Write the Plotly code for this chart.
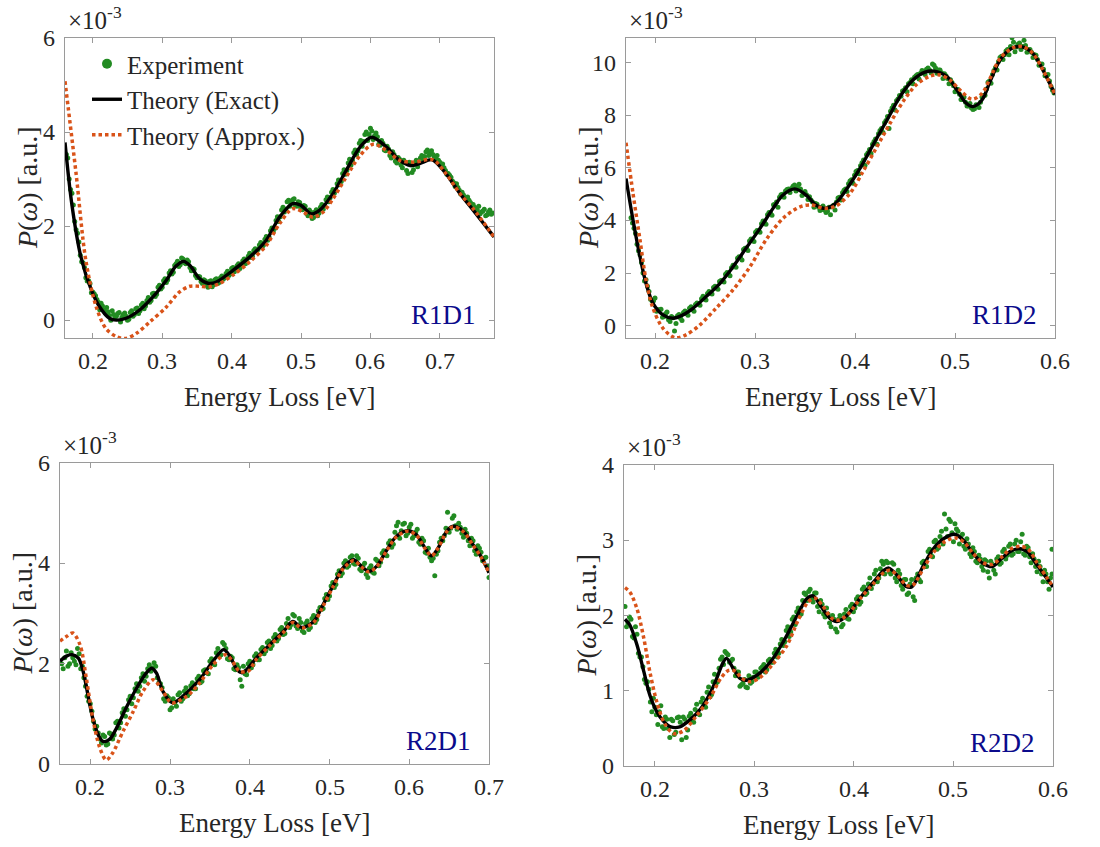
import plotly.graph_objects as go

# ---------------------------------------------------------------------------
# Loss spectra P(omega), values in units of 1e-3 (a.u.), energy in eV
# ---------------------------------------------------------------------------

# R1D1 -----------------------------------------------------------------------
r1d1_exact_x = [0.160, 0.170, 0.183, 0.198, 0.210, 0.224, 0.234, 0.248, 0.267, 0.287,
                0.306, 0.320, 0.331, 0.340, 0.354, 0.367, 0.378, 0.402, 0.426, 0.450,
                0.469, 0.488, 0.500, 0.515, 0.527, 0.546, 0.565, 0.585, 0.602, 0.623,
                0.642, 0.658, 0.671, 0.689, 0.709, 0.729, 0.748, 0.778]
r1d1_exact_y = [3.78, 2.45, 1.34, 0.64, 0.28, 0.04, 0.00, 0.04, 0.21, 0.50,
                0.85, 1.15, 1.25, 1.16, 0.88, 0.78, 0.81, 1.06, 1.34, 1.70,
                2.19, 2.48, 2.44, 2.26, 2.34, 2.69, 3.18, 3.68, 3.89, 3.68,
                3.40, 3.29, 3.33, 3.41, 3.11, 2.69, 2.34, 1.77]
r1d1_approx_x = [0.160, 0.176, 0.190, 0.205, 0.219, 0.234, 0.247, 0.263, 0.282, 0.306,
                 0.325, 0.340, 0.354, 0.368, 0.383, 0.402, 0.426, 0.450, 0.469, 0.488,
                 0.503, 0.517, 0.532, 0.546, 0.565, 0.585, 0.604, 0.623, 0.642, 0.662,
                 0.690, 0.709, 0.729, 0.748, 0.778]
r1d1_approx_y = [5.08, 3.11, 1.27, 0.28, -0.18, -0.35, -0.39, -0.28, -0.04, 0.28,
                 0.60, 0.72, 0.72, 0.71, 0.78, 0.96, 1.24, 1.59, 2.05, 2.37,
                 2.30, 2.19, 2.30, 2.58, 3.04, 3.50, 3.74, 3.61, 3.40, 3.36,
                 3.41, 3.11, 2.69, 2.37, 1.77]
r1d1_exp = [
    (0.162, 3.52), (0.164, 3.45), (0.168, 2.78), (0.172, 2.45), (0.176, 1.92), (0.180, 1.66),
    (0.184, 1.24), (0.188, 1.12), (0.192, 0.83), (0.196, 0.78), (0.200, 0.60), (0.204, 0.52),
    (0.208, 0.38), (0.212, 0.36), (0.216, 0.21), (0.220, 0.27), (0.224, 0.10), (0.228, 0.20),
    (0.232, 0.05), (0.236, 0.14), (0.240, -0.04), (0.244, 0.12), (0.248, 0.08), (0.252, 0.02),
    (0.256, 0.20), (0.260, 0.12), (0.264, 0.26), (0.268, 0.20), (0.272, 0.36), (0.276, 0.30),
    (0.280, 0.48), (0.284, 0.42), (0.288, 0.57), (0.292, 0.55), (0.296, 0.74), (0.300, 0.70),
    (0.304, 0.88), (0.308, 0.86), (0.312, 1.05), (0.316, 1.02), (0.320, 1.20), (0.324, 1.14),
    (0.328, 1.32), (0.332, 1.22), (0.336, 1.28), (0.340, 1.12), (0.344, 1.10), (0.348, 0.95),
    (0.352, 0.93), (0.356, 0.82), (0.360, 0.86), (0.364, 0.74), (0.368, 0.82), (0.372, 0.71),
    (0.376, 0.86), (0.380, 0.78), (0.384, 0.90), (0.388, 0.87), (0.392, 0.99), (0.396, 0.95),
    (0.400, 1.10), (0.404, 1.03), (0.408, 1.16), (0.412, 1.10), (0.416, 1.26), (0.420, 1.20),
    (0.424, 1.36), (0.428, 1.33), (0.432, 1.48), (0.436, 1.45), (0.440, 1.60), (0.444, 1.55),
    (0.448, 1.72), (0.452, 1.70), (0.456, 1.90), (0.460, 1.88), (0.464, 2.12), (0.468, 2.10),
    (0.472, 2.34), (0.476, 2.30), (0.480, 2.52), (0.484, 2.42), (0.488, 2.56), (0.492, 2.44),
    (0.496, 2.52), (0.500, 2.38), (0.504, 2.44), (0.508, 2.27), (0.512, 2.34), (0.516, 2.16),
    (0.520, 2.30), (0.524, 2.22), (0.528, 2.40), (0.532, 2.36), (0.536, 2.56), (0.540, 2.52),
    (0.544, 2.72), (0.548, 2.70), (0.552, 2.90), (0.556, 2.88), (0.560, 3.12), (0.564, 3.10),
    (0.568, 3.34), (0.572, 3.30), (0.576, 3.56), (0.580, 3.52), (0.584, 3.76), (0.588, 3.70),
    (0.592, 3.95), (0.596, 3.82), (0.600, 4.08), (0.604, 3.84), (0.608, 3.98), (0.612, 3.74),
    (0.616, 3.82), (0.620, 3.62), (0.624, 3.70), (0.628, 3.50), (0.632, 3.58), (0.636, 3.38),
    (0.640, 3.46), (0.644, 3.30), (0.648, 3.40), (0.652, 3.18), (0.656, 3.36), (0.660, 3.14),
    (0.664, 3.34), (0.668, 3.26), (0.672, 3.45), (0.676, 3.42), (0.680, 3.58), (0.684, 3.50),
    (0.688, 3.60), (0.692, 3.48), (0.696, 3.50), (0.700, 3.36), (0.704, 3.32), (0.708, 3.18),
    (0.712, 3.12), (0.716, 3.04), (0.720, 2.92), (0.724, 2.90), (0.728, 2.76), (0.732, 2.72),
    (0.736, 2.60), (0.740, 2.62), (0.744, 2.50), (0.748, 2.46), (0.752, 2.38), (0.756, 2.42),
    (0.760, 2.30), (0.764, 2.36), (0.768, 2.24), (0.772, 2.34), (0.776, 2.28),
    (0.166, 3.00), (0.170, 2.70), (0.174, 2.10), (0.178, 1.85), (0.182, 1.38), (0.186, 1.22),
    (0.190, 0.90), (0.194, 0.84), (0.198, 0.58), (0.202, 0.56), (0.206, 0.44), (0.210, 0.22),
    (0.214, 0.30), (0.218, 0.15), (0.222, 0.18), (0.226, 0.00), (0.230, 0.12), (0.234, 0.08),
    (0.238, 0.16), (0.242, 0.06), (0.246, 0.15), (0.250, 0.00), (0.254, 0.16), (0.258, 0.08),
    (0.262, 0.24), (0.266, 0.14), (0.270, 0.32), (0.274, 0.24), (0.278, 0.42), (0.282, 0.38),
    (0.286, 0.56), (0.290, 0.50), (0.294, 0.70), (0.298, 0.66), (0.302, 0.84), (0.306, 0.80),
    (0.310, 1.00), (0.314, 0.98), (0.318, 1.16), (0.322, 1.25), (0.326, 1.18), (0.330, 1.30),
    (0.334, 1.20), (0.338, 1.24), (0.342, 1.05), (0.346, 1.08), (0.350, 0.90), (0.354, 0.92),
    (0.358, 0.78), (0.362, 0.84), (0.366, 0.70), (0.370, 0.84), (0.374, 0.75), (0.378, 0.88),
    (0.382, 0.80), (0.386, 0.94), (0.390, 0.90), (0.394, 1.04), (0.398, 0.98), (0.402, 1.12),
    (0.406, 1.07), (0.410, 1.20), (0.414, 1.15), (0.418, 1.30), (0.422, 1.25), (0.426, 1.42),
    (0.430, 1.36), (0.434, 1.52), (0.438, 1.50), (0.442, 1.65), (0.446, 1.60), (0.450, 1.78),
    (0.454, 1.76), (0.458, 1.96), (0.462, 1.95), (0.466, 2.20), (0.470, 2.20), (0.474, 2.40),
    (0.478, 2.36), (0.482, 2.55), (0.486, 2.50), (0.490, 2.58), (0.494, 2.42), (0.498, 2.50),
    (0.502, 2.35), (0.506, 2.42), (0.510, 2.22), (0.514, 2.30), (0.518, 2.18), (0.522, 2.35),
    (0.526, 2.28), (0.530, 2.46), (0.534, 2.44), (0.538, 2.62), (0.542, 2.60), (0.546, 2.78),
    (0.550, 2.76), (0.554, 2.98), (0.558, 2.95), (0.562, 3.20), (0.566, 3.18), (0.570, 3.42),
    (0.574, 3.40), (0.578, 3.62), (0.582, 3.60), (0.586, 3.82), (0.590, 3.80), (0.594, 4.00),
    (0.598, 3.95), (0.602, 4.02), (0.606, 3.92), (0.610, 3.90), (0.614, 3.72), (0.618, 3.76),
    (0.622, 3.60), (0.626, 3.64), (0.630, 3.45), (0.634, 3.52), (0.638, 3.34), (0.642, 3.42),
    (0.646, 3.24), (0.650, 3.36), (0.654, 3.12), (0.658, 3.30), (0.662, 3.20), (0.666, 3.40),
    (0.670, 3.35), (0.674, 3.50), (0.678, 3.48), (0.682, 3.62), (0.686, 3.55), (0.690, 3.52),
    (0.694, 3.45), (0.698, 3.40), (0.702, 3.28), (0.706, 3.24), (0.710, 3.10), (0.714, 3.08),
    (0.718, 2.96), (0.722, 2.84), (0.726, 2.82), (0.730, 2.68), (0.734, 2.66), (0.738, 2.56),
    (0.742, 2.55), (0.746, 2.45), (0.750, 2.40), (0.754, 2.34), (0.758, 2.26), (0.762, 2.32),
    (0.766, 2.22), (0.770, 2.30), (0.774, 2.25),
]

# R1D2 -----------------------------------------------------------------------
r1d2_exact_x = [0.171, 0.178, 0.185, 0.191, 0.198, 0.208, 0.218, 0.228, 0.238, 0.251,
                0.265, 0.278, 0.291, 0.305, 0.318, 0.328, 0.340, 0.351, 0.361, 0.370,
                0.380, 0.391, 0.405, 0.418, 0.432, 0.445, 0.458, 0.470, 0.479, 0.492,
                0.502, 0.511, 0.518, 0.527, 0.535, 0.545, 0.556, 0.566, 0.578, 0.588,
                0.600]
r1d2_exact_y = [5.60, 4.02, 2.62, 1.61, 0.85, 0.41, 0.28, 0.41, 0.66, 1.10,
                1.61, 2.24, 2.94, 3.70, 4.46, 4.97, 5.20, 4.97, 4.59, 4.46,
                4.63, 5.16, 5.98, 6.87, 7.82, 8.71, 9.34, 9.64, 9.68, 9.47,
                8.96, 8.47, 8.33, 8.58, 9.28, 10.10, 10.53, 10.61, 10.35, 9.72,
                8.80]
r1d2_approx_x = [0.171, 0.178, 0.185, 0.191, 0.198, 0.208, 0.220, 0.231, 0.245, 0.261,
                 0.278, 0.295, 0.311, 0.328, 0.345, 0.356, 0.370, 0.381, 0.395, 0.408,
                 0.421, 0.435, 0.448, 0.461, 0.475, 0.485, 0.495, 0.505, 0.517, 0.527,
                 0.535, 0.545, 0.558, 0.568, 0.578, 0.588, 0.600]
r1d2_approx_y = [6.96, 5.03, 3.26, 1.74, 0.66, -0.10, -0.46, -0.35, 0.03, 0.66,
                 1.36, 2.24, 3.26, 4.08, 4.52, 4.59, 4.46, 4.55, 5.03, 5.86,
                 6.74, 7.69, 8.52, 9.15, 9.49, 9.53, 9.34, 8.96, 8.61, 8.83,
                 9.40, 10.16, 10.57, 10.61, 10.35, 9.72, 8.80]
r1d2_exp = [
    (0.176, 4.10), (0.179, 3.70), (0.182, 3.10), (0.185, 2.70), (0.188, 2.00), (0.191, 1.75),
    (0.194, 1.30), (0.197, 0.95), (0.200, 1.05), (0.203, 0.60), (0.206, 0.62), (0.209, 0.35),
    (0.212, 0.52), (0.215, 0.16), (0.218, 0.30), (0.221, 0.08), (0.224, 0.42), (0.227, 0.20),
    (0.230, 0.56), (0.233, 0.40), (0.236, 0.72), (0.239, 0.55), (0.242, 0.86), (0.245, 0.78),
    (0.248, 1.12), (0.251, 0.98), (0.254, 1.30), (0.257, 1.20), (0.260, 1.50), (0.263, 1.38),
    (0.266, 1.72), (0.269, 1.66), (0.272, 2.02), (0.275, 1.90), (0.278, 2.30), (0.281, 2.22),
    (0.284, 2.62), (0.287, 2.50), (0.290, 2.94), (0.293, 2.86), (0.296, 3.30), (0.299, 3.20),
    (0.302, 3.62), (0.305, 3.55), (0.308, 3.98), (0.311, 3.86), (0.314, 4.30), (0.317, 4.20),
    (0.320, 4.62), (0.323, 4.50), (0.326, 4.98), (0.329, 4.88), (0.332, 5.18), (0.335, 5.06),
    (0.338, 5.30), (0.341, 5.12), (0.344, 5.38), (0.347, 4.95), (0.350, 5.10), (0.353, 4.80),
    (0.356, 4.78), (0.359, 4.50), (0.362, 4.62), (0.365, 4.38), (0.368, 4.55), (0.371, 4.30),
    (0.374, 4.50), (0.377, 4.52), (0.380, 4.40), (0.383, 4.85), (0.386, 4.78), (0.389, 5.15),
    (0.392, 5.10), (0.395, 5.50), (0.398, 5.42), (0.401, 5.86), (0.404, 5.78), (0.407, 6.20),
    (0.410, 6.10), (0.413, 6.58), (0.416, 6.55), (0.419, 7.00), (0.422, 6.90), (0.425, 7.42),
    (0.428, 7.35), (0.431, 7.80), (0.434, 7.50), (0.437, 8.28), (0.440, 8.20), (0.443, 8.62),
    (0.446, 8.72), (0.449, 8.95), (0.452, 8.90), (0.455, 9.25), (0.458, 9.20), (0.461, 9.50),
    (0.464, 9.38), (0.467, 9.70), (0.470, 9.55), (0.473, 9.80), (0.476, 9.62), (0.479, 9.90),
    (0.482, 9.60), (0.485, 9.72), (0.488, 9.40), (0.491, 9.50), (0.494, 9.20), (0.497, 9.25),
    (0.500, 8.90), (0.503, 8.98), (0.506, 8.60), (0.509, 8.70), (0.512, 8.35), (0.515, 8.45),
    (0.518, 8.22), (0.521, 8.40), (0.524, 8.30), (0.527, 8.70), (0.530, 8.76), (0.533, 9.26),
    (0.536, 9.22), (0.539, 9.70), (0.542, 9.72), (0.545, 10.20), (0.548, 10.12), (0.551, 10.45),
    (0.554, 10.30), (0.557, 10.95), (0.560, 10.42), (0.563, 10.70), (0.566, 10.50), (0.569, 10.85),
    (0.572, 10.40), (0.575, 10.50), (0.578, 10.20), (0.581, 10.28), (0.584, 9.90), (0.587, 9.95),
    (0.590, 9.50), (0.593, 9.55), (0.596, 9.10), (0.599, 8.85),
    (0.1775, 3.90), (0.1805, 3.50), (0.1835, 2.85), (0.1865, 2.40), (0.1895, 1.70), (0.1925, 1.50),
    (0.1955, 1.00), (0.1985, 0.95), (0.2015, 0.55), (0.2045, 0.60), (0.2075, 0.32), (0.2105, 0.45),
    (0.2135, 0.22), (0.2165, 0.35), (0.2195, -0.20), (0.2225, 0.38), (0.2255, 0.28), (0.2285, 0.50),
    (0.2315, 0.45), (0.2345, 0.66), (0.2375, 0.60), (0.2405, 0.80), (0.2435, 0.82), (0.2465, 1.02),
    (0.2495, 1.00), (0.2525, 1.22), (0.2555, 1.25), (0.2585, 1.45), (0.2615, 1.42), (0.2645, 1.68),
    (0.2675, 1.70), (0.2705, 1.95), (0.2735, 1.98), (0.2765, 2.20), (0.2795, 2.30), (0.2825, 2.56),
    (0.2855, 2.60), (0.2885, 2.90), (0.2915, 2.95), (0.2945, 3.22), (0.2975, 3.25), (0.3005, 3.55),
    (0.3035, 3.60), (0.3065, 3.88), (0.3095, 3.92), (0.3125, 4.22), (0.3155, 4.28), (0.3185, 4.60),
    (0.3215, 4.70), (0.3245, 4.88), (0.3275, 5.00), (0.3305, 5.12), (0.3335, 5.20), (0.3365, 5.22),
    (0.3395, 5.35), (0.3425, 5.28), (0.3455, 5.20), (0.3485, 5.05), (0.3515, 4.98), (0.3545, 4.90),
    (0.3575, 4.70), (0.3605, 4.65), (0.3635, 4.50), (0.3665, 4.42), (0.3695, 4.40), (0.3725, 4.35),
    (0.3755, 4.22), (0.3785, 4.58), (0.3815, 4.70), (0.3845, 4.88), (0.3875, 5.05), (0.3905, 5.20),
    (0.3935, 5.40), (0.3965, 5.55), (0.3995, 5.72), (0.4025, 5.90), (0.4055, 6.08), (0.4085, 6.30),
    (0.4115, 6.50), (0.4145, 6.70), (0.4175, 6.90), (0.4205, 7.10), (0.4235, 7.30), (0.4265, 7.50),
    (0.4295, 7.72), (0.4325, 7.95), (0.4355, 8.15), (0.4385, 8.38), (0.4415, 8.55), (0.4445, 8.75),
    (0.4475, 8.92), (0.4505, 9.05), (0.4535, 9.20), (0.4565, 9.35), (0.4595, 9.45), (0.4625, 9.55),
    (0.4655, 9.60), (0.4685, 9.68), (0.4715, 9.75), (0.4745, 9.72), (0.4775, 9.95), (0.4805, 9.80),
    (0.4835, 9.72), (0.4865, 9.62), (0.4895, 9.58), (0.4925, 9.40), (0.4955, 9.35), (0.4985, 9.12),
    (0.5015, 9.00), (0.5045, 8.80), (0.5075, 8.60), (0.5105, 8.50), (0.5135, 8.35), (0.5165, 8.28),
    (0.5195, 8.25), (0.5225, 8.38), (0.5255, 8.50), (0.5285, 8.75), (0.5315, 9.00), (0.5345, 9.30),
    (0.5375, 9.55), (0.5405, 9.82), (0.5435, 10.05), (0.5465, 10.25), (0.5495, 10.30), (0.5525, 10.50),
    (0.5555, 10.62), (0.5585, 10.78), (0.5615, 10.60), (0.5645, 10.75), (0.5675, 10.62), (0.5705, 10.65),
    (0.5735, 10.50), (0.5765, 10.40), (0.5795, 10.30), (0.5825, 10.12), (0.5855, 9.92), (0.5885, 9.75),
    (0.5915, 9.50), (0.5945, 9.30), (0.5975, 8.95),
]

# R2D1 -----------------------------------------------------------------------
r2d1_exact_x = [0.162, 0.170, 0.177, 0.185, 0.191, 0.197, 0.203, 0.210, 0.216, 0.224,
                0.233, 0.245, 0.258, 0.270, 0.277, 0.283, 0.291, 0.303, 0.321, 0.337,
                0.354, 0.367, 0.375, 0.384, 0.390, 0.396, 0.408, 0.425, 0.442, 0.454,
                0.465, 0.480, 0.492, 0.505, 0.517, 0.530, 0.540, 0.549, 0.559, 0.572,
                0.584, 0.598, 0.609, 0.620, 0.628, 0.636, 0.647, 0.655, 0.668, 0.680,
                0.691, 0.700]
r2d1_exact_y = [2.05, 2.15, 2.18, 2.11, 1.85, 1.38, 0.92, 0.58, 0.45, 0.49,
                0.72, 1.12, 1.51, 1.81, 1.91, 1.81, 1.45, 1.22, 1.42, 1.68,
                2.05, 2.28, 2.15, 1.88, 1.82, 1.88, 2.11, 2.38, 2.64, 2.84,
                2.72, 2.84, 3.18, 3.57, 3.91, 4.07, 3.94, 3.84, 3.94, 4.27,
                4.54, 4.65, 4.57, 4.30, 4.15, 4.30, 4.64, 4.74, 4.64, 4.37,
                4.11, 3.81]
r2d1_approx_x = [0.162, 0.170, 0.178, 0.187, 0.195, 0.203, 0.212, 0.220, 0.228, 0.241,
                 0.254, 0.266, 0.279, 0.291, 0.302, 0.321, 0.337, 0.354, 0.369, 0.377,
                 0.387, 0.398, 0.408, 0.425, 0.442, 0.454, 0.465, 0.480, 0.492, 0.505,
                 0.517, 0.530, 0.540, 0.549, 0.559, 0.572, 0.584, 0.598, 0.609, 0.620,
                 0.628, 0.636, 0.647, 0.655, 0.668, 0.680, 0.691, 0.700]
r2d1_approx_y = [2.45, 2.54, 2.61, 2.38, 1.71, 0.92, 0.32, 0.08, 0.22, 0.65,
                 1.05, 1.45, 1.68, 1.45, 1.22, 1.35, 1.61, 1.98, 2.18, 2.08,
                 1.85, 1.85, 2.08, 2.36, 2.62, 2.82, 2.71, 2.82, 3.15, 3.55,
                 3.89, 4.05, 3.93, 3.83, 3.93, 4.26, 4.53, 4.64, 4.56, 4.29,
                 4.15, 4.30, 4.63, 4.73, 4.63, 4.36, 4.10, 3.81]
r2d1_exp = [
    (0.164, 2.00), (0.168, 2.12), (0.172, 1.95), (0.176, 2.22), (0.180, 2.05), (0.184, 2.30),
    (0.188, 1.90), (0.192, 1.72), (0.196, 1.35), (0.200, 1.20), (0.204, 0.85), (0.208, 0.75),
    (0.212, 0.50), (0.216, 0.58), (0.220, 0.38), (0.224, 0.62), (0.228, 0.50), (0.232, 0.82),
    (0.236, 0.72), (0.240, 1.02), (0.244, 0.95), (0.248, 1.28), (0.252, 1.20), (0.256, 1.50),
    (0.260, 1.45), (0.264, 1.72), (0.268, 1.65), (0.272, 1.90), (0.276, 1.85), (0.280, 2.02),
    (0.284, 1.72), (0.288, 1.60), (0.292, 1.30), (0.296, 1.36), (0.300, 1.08), (0.304, 1.30),
    (0.308, 1.15), (0.312, 1.42), (0.316, 1.30), (0.320, 1.52), (0.324, 1.40), (0.328, 1.62),
    (0.332, 1.50), (0.336, 1.75), (0.340, 1.65), (0.344, 1.88), (0.348, 1.80), (0.352, 2.10),
    (0.356, 1.98), (0.360, 2.30), (0.364, 2.18), (0.368, 2.38), (0.372, 2.10), (0.376, 2.15),
    (0.380, 1.90), (0.384, 1.98), (0.388, 1.68), (0.392, 1.95), (0.396, 1.78), (0.400, 2.05),
    (0.404, 1.98), (0.408, 2.20), (0.412, 2.08), (0.416, 2.32), (0.420, 2.25), (0.424, 2.45),
    (0.428, 2.36), (0.432, 2.58), (0.436, 2.50), (0.440, 2.72), (0.444, 2.60), (0.448, 2.90),
    (0.452, 2.78), (0.456, 2.95), (0.460, 2.70), (0.464, 2.82), (0.468, 2.62), (0.472, 2.85),
    (0.476, 2.72), (0.480, 2.96), (0.484, 2.88), (0.488, 3.12), (0.492, 3.10), (0.496, 3.38),
    (0.500, 3.35), (0.504, 3.62), (0.508, 3.58), (0.512, 3.85), (0.516, 3.80), (0.520, 4.05),
    (0.524, 3.95), (0.528, 4.15), (0.532, 3.98), (0.536, 4.10), (0.540, 3.85), (0.544, 4.00),
    (0.548, 3.72), (0.552, 3.95), (0.556, 3.80), (0.560, 4.05), (0.564, 4.02), (0.568, 4.25),
    (0.572, 4.15), (0.576, 4.45), (0.580, 4.38), (0.584, 4.75), (0.588, 4.50), (0.592, 4.78),
    (0.596, 4.55), (0.600, 4.72), (0.604, 4.50), (0.608, 4.62), (0.612, 4.42), (0.616, 4.50),
    (0.620, 4.22), (0.624, 4.30), (0.628, 4.05), (0.632, 3.75), (0.636, 4.25), (0.640, 4.50),
    (0.644, 4.55), (0.648, 5.02), (0.652, 4.70), (0.656, 4.95), (0.660, 4.68), (0.664, 4.72),
    (0.668, 4.52), (0.672, 4.60), (0.676, 4.35), (0.680, 4.45), (0.684, 4.18), (0.688, 4.30),
    (0.692, 4.05), (0.696, 4.12), (0.700, 3.72),
    (0.166, 1.90), (0.170, 2.25), (0.174, 2.00), (0.178, 2.12), (0.182, 1.98), (0.186, 2.20),
    (0.190, 1.95), (0.194, 1.55), (0.198, 1.25), (0.202, 1.05), (0.206, 0.70), (0.210, 0.62),
    (0.214, 0.42), (0.218, 0.55), (0.222, 0.40), (0.226, 0.60), (0.230, 0.58), (0.234, 0.85),
    (0.238, 0.82), (0.242, 1.10), (0.246, 1.08), (0.250, 1.35), (0.254, 1.32), (0.258, 1.60),
    (0.262, 1.55), (0.266, 1.80), (0.270, 1.75), (0.274, 1.98), (0.278, 1.92), (0.282, 1.95),
    (0.286, 1.62), (0.290, 1.52), (0.294, 1.25), (0.298, 1.32), (0.302, 1.12), (0.306, 1.22),
    (0.310, 1.38), (0.314, 1.25), (0.318, 1.45), (0.322, 1.36), (0.326, 1.56), (0.330, 1.50),
    (0.334, 1.70), (0.338, 1.62), (0.342, 1.86), (0.346, 1.82), (0.350, 2.05), (0.354, 2.00),
    (0.358, 2.22), (0.362, 2.15), (0.366, 2.42), (0.370, 2.30), (0.374, 2.08), (0.378, 2.12),
    (0.382, 1.88), (0.386, 1.92), (0.390, 1.55), (0.394, 1.80), (0.398, 2.00), (0.402, 1.92),
    (0.406, 2.15), (0.410, 2.08), (0.414, 2.28), (0.418, 2.20), (0.422, 2.42), (0.426, 2.30),
    (0.430, 2.52), (0.434, 2.45), (0.438, 2.68), (0.442, 2.58), (0.446, 2.80), (0.450, 2.72),
    (0.454, 2.98), (0.458, 2.75), (0.462, 2.90), (0.466, 2.65), (0.470, 2.80), (0.474, 2.68),
    (0.478, 2.90), (0.482, 2.82), (0.486, 3.05), (0.490, 3.08), (0.494, 3.30), (0.498, 3.28),
    (0.502, 3.55), (0.506, 3.52), (0.510, 3.78), (0.514, 3.75), (0.518, 4.00), (0.522, 3.92),
    (0.526, 4.12), (0.530, 4.00), (0.534, 4.15), (0.538, 3.88), (0.542, 3.95), (0.546, 3.78),
    (0.550, 3.90), (0.554, 3.82), (0.558, 4.08), (0.562, 3.95), (0.566, 4.20), (0.570, 4.18),
    (0.574, 4.40), (0.578, 4.32), (0.582, 4.62), (0.586, 4.82), (0.590, 4.65), (0.594, 4.80),
    (0.598, 4.60), (0.602, 4.78), (0.606, 4.55), (0.610, 4.68), (0.614, 4.38), (0.618, 4.45),
    (0.622, 4.20), (0.626, 4.12), (0.630, 4.10), (0.634, 4.18), (0.638, 4.42), (0.642, 4.45),
    (0.646, 4.70), (0.650, 4.62), (0.654, 4.90), (0.658, 4.75), (0.662, 4.80), (0.666, 4.60),
    (0.670, 4.68), (0.674, 4.45), (0.678, 4.50), (0.682, 4.25), (0.686, 4.35), (0.690, 4.22),
    (0.694, 4.10), (0.698, 3.95),
]

# R2D2 -----------------------------------------------------------------------
r2d2_exact_x = [0.170, 0.175, 0.182, 0.189, 0.195, 0.202, 0.209, 0.216, 0.225, 0.235,
                0.246, 0.256, 0.262, 0.268, 0.272, 0.279, 0.286, 0.292, 0.303, 0.316,
                0.329, 0.343, 0.353, 0.359, 0.366, 0.376, 0.383, 0.393, 0.406, 0.420,
                0.430, 0.435, 0.443, 0.452, 0.458, 0.470, 0.480, 0.490, 0.501, 0.510,
                0.520, 0.530, 0.539, 0.547, 0.557, 0.566, 0.574, 0.584, 0.594, 0.600]
r2d2_exact_y = [1.95, 1.87, 1.61, 1.25, 0.94, 0.72, 0.59, 0.52, 0.52, 0.61,
                0.76, 0.98, 1.16, 1.36, 1.43, 1.29, 1.16, 1.14, 1.21, 1.38,
                1.65, 2.00, 2.23, 2.26, 2.14, 1.96, 1.92, 2.00, 2.23, 2.45,
                2.60, 2.63, 2.54, 2.39, 2.38, 2.67, 2.89, 3.02, 3.08, 3.00,
                2.82, 2.69, 2.65, 2.74, 2.85, 2.89, 2.85, 2.67, 2.49, 2.38]
r2d2_approx_x = [0.170, 0.175, 0.182, 0.189, 0.195, 0.202, 0.210, 0.219, 0.229, 0.242,
                 0.256, 0.266, 0.274, 0.281, 0.287, 0.296, 0.306, 0.319, 0.333, 0.344,
                 0.354, 0.361, 0.368, 0.378, 0.385, 0.395, 0.406, 0.420, 0.430, 0.436,
                 0.444, 0.453, 0.459, 0.470, 0.480, 0.490, 0.502, 0.511, 0.520, 0.530,
                 0.539, 0.547, 0.557, 0.567, 0.575, 0.584, 0.594, 0.600]
r2d2_approx_y = [2.37, 2.31, 2.09, 1.69, 1.25, 0.85, 0.56, 0.43, 0.47, 0.67,
                 0.92, 1.16, 1.27, 1.26, 1.17, 1.12, 1.18, 1.36, 1.61, 1.94,
                 2.18, 2.23, 2.14, 1.96, 1.94, 2.03, 2.22, 2.43, 2.57, 2.60,
                 2.53, 2.40, 2.40, 2.63, 2.84, 2.97, 3.03, 2.97, 2.82, 2.70,
                 2.68, 2.76, 2.88, 2.92, 2.88, 2.70, 2.50, 2.38]
r2d2_exp = [
    (0.170, 2.12), (0.173, 1.90), (0.176, 1.95), (0.179, 1.70), (0.182, 1.75), (0.185, 1.45),
    (0.188, 1.32), (0.191, 1.10), (0.194, 1.02), (0.197, 0.72), (0.200, 0.78), (0.203, 0.55),
    (0.206, 0.80), (0.209, 0.50), (0.212, 0.62), (0.215, 0.38), (0.218, 0.60), (0.221, 0.45),
    (0.224, 0.65), (0.227, 0.35), (0.230, 0.62), (0.233, 0.48), (0.236, 0.70), (0.239, 0.58),
    (0.242, 0.82), (0.245, 0.68), (0.248, 0.90), (0.251, 0.78), (0.254, 1.05), (0.257, 0.95),
    (0.260, 1.22), (0.263, 1.12), (0.266, 1.42), (0.269, 1.35), (0.272, 1.50), (0.275, 1.38),
    (0.278, 1.42), (0.281, 1.20), (0.284, 1.25), (0.287, 1.08), (0.290, 1.15), (0.293, 1.04),
    (0.296, 1.10), (0.299, 1.18), (0.302, 1.25), (0.305, 1.20), (0.308, 1.32), (0.311, 1.25),
    (0.314, 1.40), (0.317, 1.38), (0.320, 1.50), (0.323, 1.45), (0.326, 1.62), (0.329, 1.60),
    (0.332, 1.80), (0.335, 1.72), (0.338, 1.95), (0.341, 1.88), (0.344, 2.10), (0.347, 2.02),
    (0.350, 2.30), (0.353, 2.20), (0.356, 2.35), (0.359, 2.18), (0.362, 2.30), (0.365, 2.05),
    (0.368, 2.15), (0.371, 1.98), (0.374, 2.02), (0.377, 1.85), (0.380, 1.95), (0.383, 1.78),
    (0.386, 2.00), (0.389, 1.88), (0.392, 2.08), (0.395, 1.95), (0.398, 2.15), (0.401, 2.10),
    (0.404, 2.25), (0.407, 2.18), (0.410, 2.38), (0.413, 2.30), (0.416, 2.50), (0.419, 2.42),
    (0.422, 2.60), (0.425, 2.50), (0.428, 2.72), (0.431, 2.55), (0.434, 2.70), (0.437, 2.55),
    (0.440, 2.68), (0.443, 2.45), (0.446, 2.55), (0.449, 2.35), (0.452, 2.48), (0.455, 2.30),
    (0.458, 2.48), (0.461, 2.20), (0.464, 2.55), (0.467, 2.45), (0.470, 2.72), (0.473, 2.65),
    (0.476, 2.88), (0.479, 2.78), (0.482, 3.00), (0.485, 2.90), (0.488, 3.12), (0.491, 3.35),
    (0.494, 3.05), (0.497, 3.25), (0.500, 2.98), (0.503, 3.15), (0.506, 2.95), (0.509, 3.08),
    (0.512, 2.88), (0.515, 2.95), (0.518, 2.78), (0.521, 2.85), (0.524, 2.70), (0.527, 2.75),
    (0.530, 2.60), (0.533, 2.72), (0.536, 2.50), (0.539, 2.68), (0.542, 2.55), (0.545, 2.78),
    (0.548, 2.70), (0.551, 2.88), (0.554, 2.80), (0.557, 2.95), (0.560, 2.82), (0.563, 3.00),
    (0.566, 2.85), (0.569, 3.08), (0.572, 2.80), (0.575, 2.90), (0.578, 2.70), (0.581, 2.75),
    (0.584, 2.58), (0.587, 2.65), (0.590, 2.45), (0.593, 2.55), (0.596, 2.35), (0.599, 2.55),
    (0.599, 2.88),
    (0.1715, 1.85), (0.1745, 1.98), (0.1775, 1.72), (0.1805, 1.85), (0.1835, 1.50), (0.1865, 1.45),
    (0.1895, 1.15), (0.1925, 1.12), (0.1955, 0.85), (0.1985, 0.90), (0.2015, 0.68), (0.2045, 0.72),
    (0.2075, 0.52), (0.2105, 0.65), (0.2135, 0.50), (0.2165, 0.62), (0.2195, 0.42), (0.2225, 0.64),
    (0.2255, 0.58), (0.2285, 0.65), (0.2315, 0.38), (0.2345, 0.66), (0.2375, 0.60), (0.2405, 0.75),
    (0.2435, 0.70), (0.2465, 0.85), (0.2495, 0.80), (0.2525, 0.98), (0.2555, 0.92), (0.2585, 1.12),
    (0.2615, 1.10), (0.2645, 1.30), (0.2675, 1.45), (0.2705, 1.52), (0.2735, 1.48), (0.2765, 1.40),
    (0.2795, 1.30), (0.2825, 1.25), (0.2855, 1.06), (0.2885, 1.10), (0.2915, 1.05), (0.2945, 1.20),
    (0.2975, 1.12), (0.3005, 1.25), (0.3035, 1.18), (0.3065, 1.30), (0.3095, 1.35), (0.3125, 1.28),
    (0.3155, 1.42), (0.3185, 1.38), (0.3215, 1.55), (0.3245, 1.50), (0.3275, 1.68), (0.3305, 1.65),
    (0.3335, 1.85), (0.3365, 1.78), (0.3395, 1.98), (0.3425, 2.05), (0.3455, 2.00), (0.3485, 2.20),
    (0.3515, 2.28), (0.3545, 2.32), (0.3575, 2.22), (0.3605, 2.30), (0.3635, 2.12), (0.3665, 2.20),
    (0.3695, 2.02), (0.3725, 2.10), (0.3755, 1.90), (0.3785, 2.00), (0.3815, 1.82), (0.3845, 1.95),
    (0.3875, 1.85), (0.3905, 2.02), (0.3935, 1.96), (0.3965, 2.12), (0.3995, 2.05), (0.4025, 2.22),
    (0.4055, 2.15), (0.4085, 2.35), (0.4115, 2.28), (0.4145, 2.42), (0.4175, 2.36), (0.4205, 2.55),
    (0.4235, 2.45), (0.4265, 2.62), (0.4295, 2.68), (0.4325, 2.72), (0.4355, 2.58), (0.4385, 2.70),
    (0.4415, 2.50), (0.4445, 2.60), (0.4475, 2.40), (0.4505, 2.48), (0.4535, 2.28), (0.4565, 2.42),
    (0.4595, 2.25), (0.4625, 2.50), (0.4655, 2.48), (0.4685, 2.70), (0.4715, 2.65), (0.4745, 2.85),
    (0.4775, 2.80), (0.4805, 2.98), (0.4835, 2.88), (0.4865, 3.05), (0.4895, 2.95), (0.4925, 3.15),
    (0.4955, 3.28), (0.4985, 3.10), (0.5015, 3.22), (0.5045, 3.12), (0.5075, 3.05), (0.5105, 2.92),
    (0.5135, 3.02), (0.5165, 2.82), (0.5195, 2.90), (0.5225, 2.72), (0.5255, 2.80), (0.5285, 2.65),
    (0.5315, 2.74), (0.5345, 2.58), (0.5375, 2.72), (0.5405, 2.60), (0.5435, 2.75), (0.5465, 2.68),
    (0.5495, 2.85), (0.5525, 2.75), (0.5555, 2.92), (0.5585, 2.80), (0.5615, 2.95), (0.5645, 2.85),
    (0.5675, 2.98), (0.5705, 2.82), (0.5735, 2.92), (0.5765, 2.78), (0.5795, 2.82), (0.5825, 2.65),
    (0.5855, 2.72), (0.5885, 2.55), (0.5915, 2.60), (0.5945, 2.45), (0.5975, 2.50),
]

# Panel set-up: name, data, axis ranges and ticks ---------------------------
panels = [
    dict(name="R1D1", exp=r1d1_exp, ex=(r1d1_exact_x, r1d1_exact_y), ap=(r1d1_approx_x, r1d1_approx_y),
         xr=[0.16, 0.778], yr=[-0.38, 6.0], xt=[0.2, 0.3, 0.4, 0.5, 0.6, 0.7], yt=[0, 2, 4, 6],
         box=(65, 494, 38, 338)),
    dict(name="R1D2", exp=r1d2_exp, ex=(r1d2_exact_x, r1d2_exact_y), ap=(r1d2_approx_x, r1d2_approx_y),
         xr=[0.171, 0.6], yr=[-0.47, 10.94], xt=[0.2, 0.3, 0.4, 0.5, 0.6], yt=[0, 2, 4, 6, 8, 10],
         box=(626, 1055, 38, 338)),
    dict(name="R2D1", exp=r2d1_exp, ex=(r2d1_exact_x, r2d1_exact_y), ap=(r2d1_approx_x, r2d1_approx_y),
         xr=[0.162, 0.7], yr=[0.0, 6.0], xt=[0.2, 0.3, 0.4, 0.5, 0.6, 0.7], yt=[0, 2, 4, 6],
         box=(60, 489, 463, 764)),
    dict(name="R2D2", exp=r2d2_exp, ex=(r2d2_exact_x, r2d2_exact_y), ap=(r2d2_approx_x, r2d2_approx_y),
         xr=[0.169, 0.6], yr=[0.0, 4.0], xt=[0.2, 0.3, 0.4, 0.5, 0.6], yt=[0, 1, 2, 3, 4],
         box=(624, 1053, 465, 766)),
]

W, H = 1100, 847
FONT = "Liberation Serif"
TXT = "#262626"
AXC = "#9a9a9a"
GREEN = "#228B22"
ORANGE = "#D95319"
NAVY = "#0b0b8c"
DOTS = "3.5px,3px"


def px(x):
    return x / W


def py(y):
    return 1 - y / H


fig = go.Figure()
layout = dict(
    width=W, height=H,
    margin=dict(l=0, r=0, t=0, b=0),
    paper_bgcolor="white", plot_bgcolor="white",
    font=dict(family=FONT, size=24, color=TXT),
    showlegend=True,
    annotations=[],
)

for i, p in enumerate(panels):
    k = "" if i == 0 else str(i + 1)
    xa, ya = "x" + k, "y" + k
    x0, x1, y0, y1 = p["box"]
    ex_x, ex_y = zip(*p["exp"])

    fig.add_trace(go.Scatter(x=list(ex_x), y=list(ex_y), mode="markers", xaxis=xa, yaxis=ya,
                             marker=dict(size=5, color=GREEN, line=dict(width=0)),
                             showlegend=False, hoverinfo="skip"))
    fig.add_trace(go.Scatter(x=p["ex"][0], y=p["ex"][1], mode="lines", xaxis=xa, yaxis=ya,
                             line=dict(color="black", width=3.4, shape="spline", smoothing=0.9),
                             showlegend=False, hoverinfo="skip"))
    fig.add_trace(go.Scatter(x=p["ap"][0], y=p["ap"][1], mode="lines", xaxis=xa, yaxis=ya,
                             line=dict(color=ORANGE, width=3.5, dash=DOTS, shape="spline", smoothing=0.9),
                             showlegend=False, hoverinfo="skip"))

    axis_common = dict(showline=True, linecolor=AXC, linewidth=1, mirror="ticks",
                       ticks="inside", ticklen=5, tickwidth=1, tickcolor=AXC,
                       showgrid=False, zeroline=False, automargin=False,
                       showticklabels=False)
    layout["xaxis" + k] = dict(axis_common, domain=[px(x0), px(x1)], range=p["xr"],
                               tickvals=p["xt"], anchor=ya)
    layout["yaxis" + k] = dict(axis_common, domain=[py(y1), py(y0)], range=p["yr"],
                               tickvals=p["yt"], anchor=xa)

    # tick labels, placed at the tick values of each axis
    for t in p["xt"]:
        layout["annotations"].append(
            dict(text=f"{t:.1f}", x=t, xref=xa, y=py(y1 + 23), yref="paper",
                 xanchor="center", yanchor="middle", showarrow=False,
                 font=dict(family=FONT, size=24, color=TXT)))
    for t in p["yt"]:
        layout["annotations"].append(
            dict(text=f"{t:g}", x=px(x0 - 8), xref="paper", y=t, yref=ya,
                 xanchor="right", yanchor="middle", showarrow=False,
                 font=dict(family=FONT, size=24, color=TXT)))

    # exponent, axis titles and panel tag
    layout["annotations"] += [
        dict(text="×10<sup>-3</sup>", x=px(x0 + 1), y=py(y0 - 2), xref="paper", yref="paper",
             xanchor="left", yanchor="bottom", showarrow=False,
             font=dict(family=FONT, size=25, color=TXT)),
        dict(text="Energy Loss [eV]", x=px((x0 + x1) / 2), y=py(y1 + 59), xref="paper", yref="paper",
             xanchor="center", yanchor="middle", showarrow=False,
             font=dict(family=FONT, size=27, color=TXT)),
        dict(text="<i>P</i>(<i>ω</i>) [a.u.]", x=px(x0 - 38), y=py((y0 + y1) / 2), xref="paper",
             yref="paper", xanchor="center", yanchor="middle", textangle=-90, showarrow=False,
             font=dict(family=FONT, size=28, color=TXT)),
        dict(text=p["name"], x=px(x1 - 16), y=py(y1 - 23), xref="paper", yref="paper",
             xanchor="right", yanchor="middle", showarrow=False,
             font=dict(family=FONT, size=27, color=NAVY)),
    ]

# legend entries for the first panel
fig.add_trace(go.Scatter(x=[None], y=[None], mode="markers", name="Experiment",
                         marker=dict(size=10, color=GREEN)))
fig.add_trace(go.Scatter(x=[None], y=[None], mode="lines", name="Theory (Exact)",
                         line=dict(color="black", width=3.4)))
fig.add_trace(go.Scatter(x=[None], y=[None], mode="lines", name="Theory (Approx.)",
                         line=dict(color=ORANGE, width=3.5, dash=DOTS)))

layout["legend"] = dict(x=px(87), y=py(41), xanchor="left", yanchor="top",
                        bgcolor="rgba(0,0,0,0)", borderwidth=0,
                        font=dict(family=FONT, size=25, color=TXT),
                        tracegroupgap=0, itemwidth=30)

fig.update_layout(**layout)
fig.write_html("out.html")
